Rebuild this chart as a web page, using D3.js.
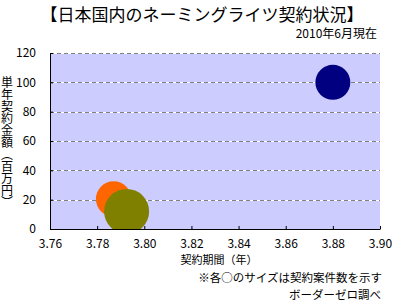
<!DOCTYPE html>
<html>
<head>
<meta charset="utf-8">
<script src="https://cdn.jsdelivr.net/npm/d3@7"></script>
<style>
  body { margin: 0; background: #fff; }
  svg text { font-family: "Noto Sans CJK JP", "Noto Sans", sans-serif; fill: #000; }
</style>
</head>
<body>
<div id="chart"></div>
<script>
// bubble data
const contractYears = [3.88, 3.787, 3.7925]
const annualAmounts = [100, 20.5, 12]
const contractCounts = [32, 33, 53]
const bubbleColors = ["#000080", "#ff6600", "#808000"]

const xTicks = [3.76, 3.78, 3.80, 3.82, 3.84, 3.86, 3.88, 3.90]
const yTicks = [0, 20, 40, 60, 80, 100, 120]

const width = 410
const height = 300
const margin = { top: 53, right: 30, bottom: 71, left: 50 }
const plotW = width - margin.left - margin.right
const plotH = height - margin.top - margin.bottom

const svg = d3
  .select("#chart")
  .append("svg")
  .attr("width", width)
  .attr("height", height)

const x = d3.scaleLinear().domain([3.76, 3.90]).range([0, plotW])
const y = d3.scaleLinear().domain([0, 120]).range([plotH, 0])
const r = d3.scaleSqrt().domain([0, 53]).range([0, 22.5])

const g = svg
  .append("g")
  .attr("transform", `translate(${margin.left},${margin.top})`)

// plot background
g.append("rect")
  .attr("width", plotW)
  .attr("height", plotH)
  .attr("fill", "#ccccff")

// gridlines (white under grey dashes)
const grid = g.append("g")
yTicks.filter((d) => d > 0).forEach((d) => {
  grid.append("line")
    .attr("x1", 0).attr("x2", plotW)
    .attr("y1", Math.round(y(d)) + 0.5).attr("y2", Math.round(y(d)) + 0.5)
    .attr("stroke", "#fff")
  grid.append("line")
    .attr("x1", 0).attr("x2", plotW)
    .attr("y1", Math.round(y(d)) + 0.5).attr("y2", Math.round(y(d)) + 0.5)
    .attr("stroke", "#808080")
    .attr("stroke-dasharray", "4,3")
})

// bubbles, clipped to plot
svg.append("clipPath")
  .attr("id", "plotclip")
  .append("rect")
  .attr("width", plotW)
  .attr("height", plotH)

g.append("g")
  .attr("clip-path", "url(#plotclip)")
  .selectAll("circle")
  .data(contractYears)
  .enter()
  .append("circle")
  .attr("cx", (d) => x(d))
  .attr("cy", (d, i) => y(annualAmounts[i]))
  .attr("r", (d, i) => r(contractCounts[i]))
  .attr("fill", (d, i) => bubbleColors[i])

// axes
const xAxis = g.append("g")
  .attr("transform", `translate(0,${plotH})`)
  .call(
    d3.axisBottom(x)
      .tickValues(xTicks)
      .tickFormat(d3.format(".2f"))
      .tickSizeInner(-3)
      .tickSizeOuter(0)
      .tickPadding(10)
  )
const yAxis = g.append("g")
  .call(
    d3.axisLeft(y)
      .tickValues(yTicks)
      .tickSizeInner(-3)
      .tickSizeOuter(0)
      .tickPadding(14)
  )
;[xAxis, yAxis].forEach((a) => {
  a.selectAll("path, line").attr("stroke", "#000")
  a.selectAll("text").style("font-size", "12px")
})

// titles
svg.append("text")
  .attr("x", 202)
  .attr("y", 21)
  .attr("text-anchor", "middle")
  .style("font-size", "17px")
  .text("【日本国内のネーミングライツ契約状況】")

svg.append("text")
  .attr("x", 377)
  .attr("y", 38)
  .attr("text-anchor", "end")
  .style("font-size", "12px")
  .text("2010年6月現在")

svg.append("text")
  .attr("x", 219)
  .attr("y", 264)
  .attr("text-anchor", "middle")
  .style("font-size", "11px")
  .text("契約期間（年）")

svg.append("text")
  .attr("x", 382)
  .attr("y", 281.5)
  .attr("text-anchor", "end")
  .style("font-size", "11.5px")
  .text("※各○のサイズは契約案件数を示す")

svg.append("text")
  .attr("x", 381)
  .attr("y", 298.5)
  .attr("text-anchor", "end")
  .style("font-size", "11.5px")
  .text("ボーダーゼロ調べ")

svg.append("text")
  .attr("x", 7)
  .attr("y", 142)
  .attr("text-anchor", "middle")
  .style("writing-mode", "vertical-rl")
  .style("font-size", "12px")
  .text("単年契約金額（百万円）")
</script>
</body>
</html>
